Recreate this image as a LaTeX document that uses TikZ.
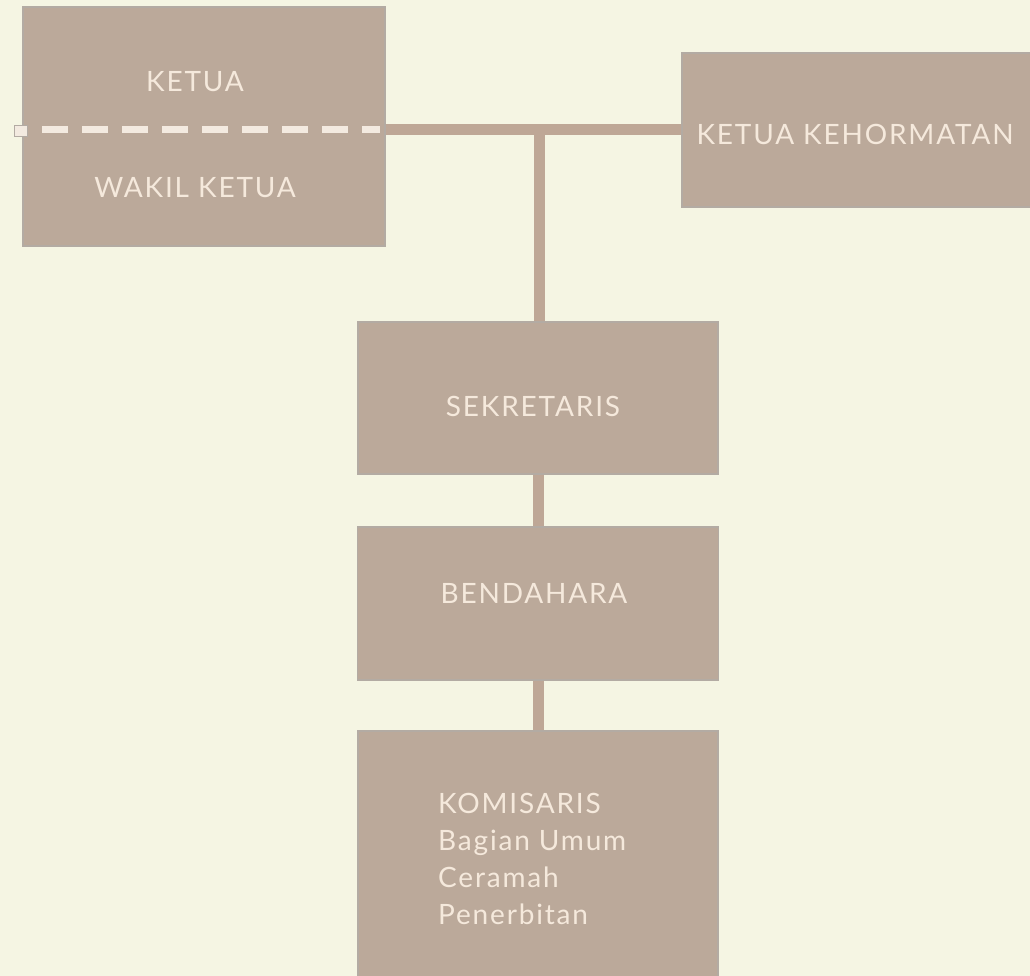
\documentclass[tikz,border=0pt]{standalone}
\usepackage{fontspec}
\setmainfont{Lato}
\definecolor{bg}{HTML}{F5F5E3}
\definecolor{boxfill}{HTML}{BBA99A}
\definecolor{boxedge}{HTML}{B3ABA3}
\definecolor{conn}{HTML}{BEA796}
\definecolor{txt}{HTML}{F5E9DC}
\definecolor{dashcol}{HTML}{F3EAE0}
\begin{document}
\begin{tikzpicture}[x=1pt,y=-1pt,
  orgbox/.style={draw=boxedge, line width=1.5pt, fill=boxfill, rectangle, inner sep=0pt},
  lbl/.style={text=txt, font=\fontsize{28}{37}\selectfont\addfontfeature{LetterSpace=6.5}, inner sep=0pt},
  link/.style={draw=conn, line width=11pt}]
\fill[bg] (0,0) rectangle (1030,976);
\useasboundingbox (0,0) rectangle (1030,976);
% boxes
\node[orgbox, minimum width=362pt, minimum height=239pt] (ketua) at (204,126.5) {};
\node[orgbox, minimum width=353pt, minimum height=154pt] (kehor) at (858.5,130) {};
\node[orgbox, minimum width=360pt, minimum height=152pt] (sek) at (538,398) {};
\node[orgbox, minimum width=361pt, minimum height=153pt] (bend) at (538,603.5) {};
\node[orgbox, minimum width=360pt, minimum height=260pt] (kom) at (538,861) {};
% connectors
\coordinate (j) at (539,130);
\draw[link] (j -| ketua.east) -- (j -| kehor.west);
\draw[link] (j) -- (j |- sek.north);
\draw[link] (sek.south) -- (bend.north);
\draw[link] (bend.south) -- (kom.north);
% dashed divider
\coordinate (dl) at (42,130);
\coordinate (dr) at (380,130);
\fill[dashcol, draw=boxedge, line width=0.5pt] (14,125) rectangle (27,136);
\draw[dashcol, line width=7pt, dash pattern=on 26pt off 14pt] (dl) -- (dr);
% texts
\node[lbl] (tketua) at (195,82) {KETUA};
\node[lbl] (twakil) at (195,188) {WAKIL KETUA};
\node[lbl] (tkehor) at (855,134) {KETUA KEHORMATAN};
\node[lbl] (tsek) at (533,406) {SEKRETARIS};
\node[lbl] (tbend) at (534,593) {BENDAHARA};
\node[lbl, anchor=north west, align=left] (tkom) at (438,793) {KOMISARIS\\Bagian Umum\\Ceramah\\Penerbitan};
\end{tikzpicture}
\end{document}
